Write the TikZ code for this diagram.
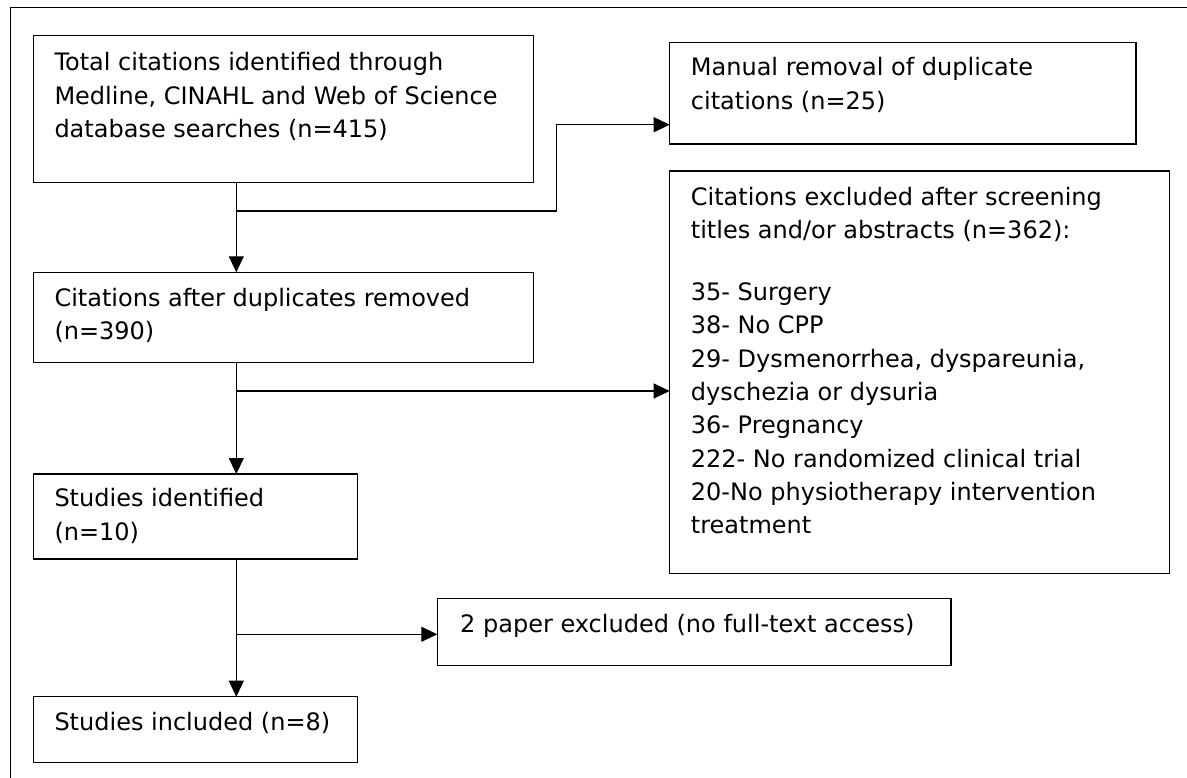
\documentclass[tikz,border=0pt]{standalone}
\usepackage{fontspec}
\setmainfont{DejaVu Sans}
\usetikzlibrary{arrows.meta}
% stacked lines whose baseline is the first line's baseline
\newcommand{\linestack}[1]{\begin{tabular}[t]{@{}l@{}}#1\end{tabular}}
\begin{document}
\begin{tikzpicture}[x=1pt,y=-1pt,
  box/.style={draw=black,line width=1.3pt,rectangle,anchor=north west,inner sep=0pt,outer sep=0pt},
  txt/.style={anchor=base west,inner sep=0pt,font=\fontsize{24pt}{33.3pt}\selectfont},
  link/.style={draw=black,line width=1.1pt},
  arr/.style={link,-{Triangle[length=16pt,width=15pt]}}]
\useasboundingbox (0,0) rectangle (1187,778);
% open outer frame (top and left edges only)
\draw[line width=1.1pt] (10.7,778) -- (10.7,7.3) -- (1187,7.3);

% boxes
\node[box,minimum width=500.4pt,minimum height=146.6pt] (b1) at (33.3,35.7) {};
\node[box,minimum width=466.3pt,minimum height=101.7pt] (mb) at (669.7,42.3) {};
\node[box,minimum width=500pt,minimum height=402.3pt] (xb) at (669.7,171) {};
\node[box,minimum width=500.4pt,minimum height=90pt] (b2) at (33.3,272.3) {};
\node[box,minimum width=324.4pt,minimum height=85pt] (b3) at (33.3,474) {};
\node[box,minimum width=513.7pt,minimum height=66.6pt] (pe) at (437.3,598.7) {};
\node[box,minimum width=324.4pt,minimum height=66pt] (b4) at (33.3,696.7) {};

% texts
\node[txt] (t1) at (54.3,71) {\linestack{Total citations identified through\\Medline, CINAHL and Web of Science\\database searches (n=415)}};
\node[txt] (tm) at (690.7,76) {\linestack{Manual removal of duplicate\\citations (n=25)}};
\node[txt] (tx) at (690.7,205.7) {\linestack{Citations excluded after screening\\titles and/or abstracts (n=362):\\[28.4pt]35- Surgery\\38- No CPP\\29- Dysmenorrhea, dyspareunia,\\dyschezia or dysuria\\36- Pregnancy\\222- No randomized clinical trial\\20-No physiotherapy intervention\\treatment}};
\node[txt] (t2) at (54.3,306.7) {\linestack{Citations after duplicates removed\\(n=390)}};
\node[txt] (t3) at (54.3,506.7) {\linestack{Studies identified\\(n=10)}};
\node[txt] (tp) at (460,632.7) {2 paper excluded (no full-text access)};
\node[txt] (t4) at (54.3,730) {Studies included (n=8)};

% connector junctions
\coordinate (trunk) at (236.3,0);
\coordinate (j1) at (236.3,211);
\coordinate (e1) at (556.7,124.7);
\coordinate (j2) at (236.3,391);
\coordinate (j3) at (236.3,634.3);

% main flow
\draw[arr] (b1.south -| trunk) -- (b2.north -| trunk);
\draw[arr] (b2.south -| trunk) -- (b3.north -| trunk);
\draw[arr] (b3.south -| trunk) -- (b4.north -| trunk);

% side branches
\draw[arr] (j1) -| (e1) -- (e1 -| mb.west);
\draw[arr] (j2) -- (j2 -| xb.west);
\draw[arr] (j3) -- (j3 -| pe.west);
\end{tikzpicture}
\end{document}
